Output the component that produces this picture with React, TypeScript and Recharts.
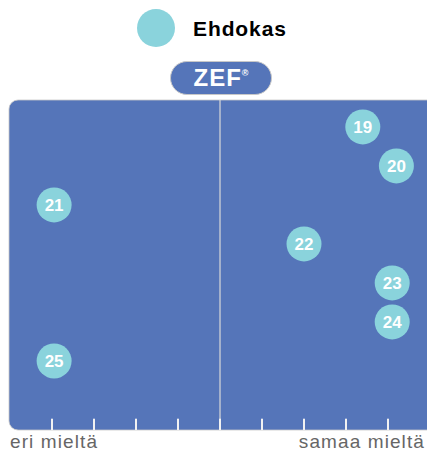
import React from 'react';
import { ScatterChart, Scatter, XAxis, YAxis, ReferenceArea, ReferenceLine } from 'recharts';

const candidates = ['19', '20', '21', '22', '23', '24', '25'];
const agreement = [3.4, 4.2, -3.95, 2.0, 4.1, 4.1, -3.95];
const rows = [0, 1, 2, 3, 4, 5, 6];
const scaleTicks = [-4, -3, -2, -1, 0, 1, 2, 3, 4];
const legendLabel = 'Ehdokas';
const leftLabel = 'eri mieltä';
const rightLabel = 'samaa mieltä';

const data = candidates.map((c, i) => ({ name: c, x: agreement[i], y: rows[i] }));

const X_DOMAIN: [number, number] = [-5.024, 4.881];
const Y_DOMAIN: [number, number] = [-0.69, 7.77];
const BLUE = '#5575b9';
const TEAL = '#8ad3dc';
const FONT = 'Liberation Sans, Arial, sans-serif';

const Bubble = (props: any) => {
  const { cx, cy, payload } = props;
  return (
    <g>
      <circle cx={cx} cy={cy} r={17.5} fill={TEAL} />
      <text x={cx} y={cy + 6} textAnchor="middle" fill="#fff" fontFamily={FONT} fontWeight="bold" fontSize={17}>
        {payload.name}
      </text>
    </g>
  );
};

const BgShape = (props: any) => {
  const { x, y, width, height } = props;
  return <rect x={x} y={y} width={width + 12} height={height} rx={9} ry={9} fill={BLUE} stroke="#c8c8c8" strokeWidth={0.8} />;
};

export default function App() {
  return (
    <div style={{ position: 'absolute', left: 0, top: 0, width: 427, height: 454, background: '#fff', overflow: 'hidden' }}>
      <ScatterChart width={427} height={454} margin={{ left: 9, right: 2, top: 100, bottom: 24 }}>
        <XAxis type="number" dataKey="x" domain={X_DOMAIN} hide allowDataOverflow />
        <YAxis type="number" dataKey="y" domain={Y_DOMAIN} reversed hide allowDataOverflow />
        <ReferenceArea x1={X_DOMAIN[0]} x2={X_DOMAIN[1]} y1={Y_DOMAIN[0]} y2={Y_DOMAIN[1]} shape={<BgShape />} ifOverflow="visible" />
        <ReferenceLine x={0} stroke="#d9d9d9" strokeWidth={1.2} />
        {scaleTicks.map((t) => (
          <ReferenceLine
            key={t}
            segment={[{ x: t, y: 7.48 }, { x: t, y: Y_DOMAIN[1] }]}
            stroke="#f2f2f2"
            strokeWidth={2}
            ifOverflow="visible"
          />
        ))}
        <Scatter data={data} shape={<Bubble />} isAnimationActive={false} />
      </ScatterChart>
      <div style={{ position: 'absolute', left: 137, top: 9, width: 38, height: 38, borderRadius: 19, background: TEAL }} />
      <div style={{ position: 'absolute', left: 193, top: 17, fontFamily: FONT, fontWeight: 'bold', fontSize: 21, letterSpacing: 0.9, color: '#000', lineHeight: '24px' }}>
        {legendLabel}
      </div>
      <div style={{ position: 'absolute', left: 170, top: 61, width: 102, height: 34, borderRadius: 17, background: BLUE, border: '1px solid #c8c8c8', boxSizing: 'border-box', display: 'flex', alignItems: 'center', justifyContent: 'center', color: '#fff', fontFamily: FONT, fontWeight: 'bold', fontSize: 24, letterSpacing: 1 }}>
        <span>ZEF</span>
        <sup style={{ fontSize: 9, marginTop: -10, verticalAlign: 'top', lineHeight: '10px', letterSpacing: 0 }}>®</sup>
      </div>
      <div style={{ position: 'absolute', left: 10, top: 431, fontFamily: FONT, fontSize: 19, letterSpacing: 1.1, color: '#666', whiteSpace: 'nowrap' }}>{leftLabel}</div>
      <div style={{ position: 'absolute', right: 2, top: 431, fontFamily: FONT, fontSize: 19, letterSpacing: 1.1, color: '#666', whiteSpace: 'nowrap' }}>{rightLabel}</div>
    </div>
  );
}
